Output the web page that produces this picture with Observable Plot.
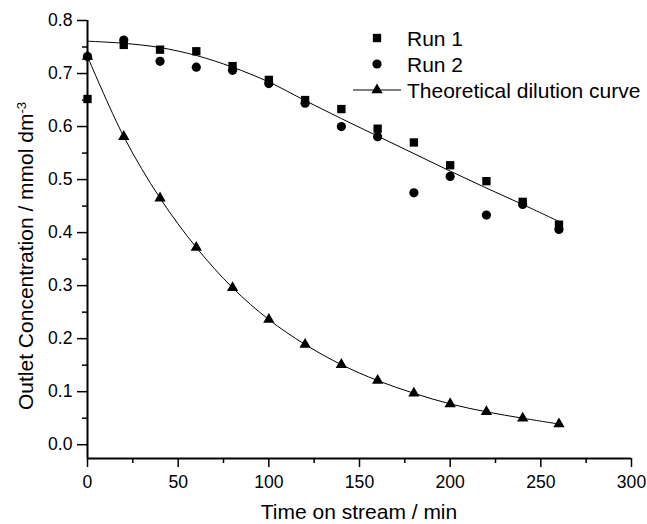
<!DOCTYPE html>
<html>
<head>
<meta charset="utf-8">
<script src="https://cdn.jsdelivr.net/npm/d3@7"></script>
<script src="https://cdn.jsdelivr.net/npm/@observablehq/plot@0.6"></script>
<style>
  html, body { margin: 0; padding: 0; background: #fff; }
  #chart svg { display: block; }
</style>
</head>
<body>
<div id="chart"></div>
<script>
// ---- data ----
const time = [0, 20, 40, 60, 80, 100, 120, 140, 160, 180, 200, 220, 240, 260];
const run1 = [0.652, 0.754, 0.745, 0.742, 0.714, 0.688, 0.650, 0.633, 0.596, 0.570, 0.527, 0.497, 0.458, 0.415];
const run2 = [0.732, 0.763, 0.723, 0.712, 0.706, 0.681, 0.644, 0.600, 0.581, 0.475, 0.506, 0.433, 0.453, 0.406];
const theory = [0.732, 0.581, 0.465, 0.372, 0.296, 0.236, 0.189, 0.151, 0.121, 0.097, 0.077, 0.062, 0.050, 0.039];
const fitCurve = [0.761, 0.757, 0.749, 0.734, 0.712, 0.684, 0.649, 0.615, 0.582, 0.549, 0.516, 0.484, 0.453, 0.421];

const xTicks = [0, 50, 100, 150, 200, 250, 300];
const xMinor = [25, 75, 125, 175, 225, 275];
const yTicks = [0, 0.1, 0.2, 0.3, 0.4, 0.5, 0.6, 0.7, 0.8];
const yMinor = [0.05, 0.15, 0.25, 0.35, 0.45, 0.55, 0.65, 0.75];

const seriesNames = ["Run 1", "Run 2", "Theoretical dilution curve"];
const xTitle = "Time on stream / min";
const yTitle = "Outlet Concentration / mmol dm";
const yTitleSup = "-3";

const rows = (ys) => time.map((t, i) => ({t, v: ys[i]}));

const FONT = "'Liberation Sans', Arial, Helvetica, sans-serif";
const W = 647, H = 524;
const mL = 87, mR = 16, mT = 20, mB = 66;
const yMin = -0.026;

const plot = Plot.plot({
  width: W,
  height: H,
  marginLeft: mL,
  marginRight: mR,
  marginTop: mT,
  marginBottom: mB,
  style: {fontFamily: FONT, fontSize: "17.6px", color: "#000", background: "#fff"},
  x: {domain: [0, 300], label: null},
  y: {domain: [yMin, 0.8], label: null},
  marks: [
    // minor ticks
    Plot.axisX(xMinor, {tickSize: 5, text: null, strokeWidth: 1.5, label: null}),
    Plot.axisY(yMinor, {tickSize: 5, text: null, strokeWidth: 1.5, label: null}),
    // major ticks + labels
    Plot.axisX(xTicks, {tickSize: 9, tickPadding: 8, strokeWidth: 1.5, label: null, tickFormat: d3.format("d")}),
    Plot.axisY(yTicks, {tickSize: 10, tickPadding: 5, strokeWidth: 1.5, label: null, tickFormat: d3.format(".1f")}),
    // axis lines
    Plot.ruleY([yMin], {stroke: "#000", strokeWidth: 2}),
    Plot.ruleX([0], {stroke: "#000", strokeWidth: 2}),
    // curves
    Plot.line(rows(fitCurve), {x: "t", y: "v", curve: "catmull-rom", stroke: "#000", strokeWidth: 1}),
    Plot.line(rows(theory), {x: "t", y: "v", curve: "catmull-rom", stroke: "#000", strokeWidth: 1}),
    // markers
    Plot.dot(rows(run1), {x: "t", y: "v", symbol: "square", r: 4.7, fill: "#000", stroke: "none"}),
    Plot.dot(rows(run2), {x: "t", y: "v", symbol: "circle", r: 4.6, fill: "#000", stroke: "none"}),
    Plot.dot(rows(theory), {x: "t", y: "v", symbol: "triangle", r: 4.2, fill: "#000", stroke: "none"})
  ]
});

document.getElementById("chart").appendChild(plot);

const svg = d3.select(plot);

// Axis titles
svg.append("text")
  .attr("x", (mL + (W - mR)) / 2)
  .attr("y", 519)
  .attr("text-anchor", "middle")
  .style("font-family", FONT)
  .style("font-size", "21px")
  .attr("fill", "#000")
  .text(xTitle);

const yt = svg.append("text")
  .attr("transform", "translate(33,410) rotate(-90)")
  .attr("text-anchor", "start")
  .style("font-family", FONT)
  .style("font-size", "21px")
  .attr("fill", "#000");
yt.append("tspan").text(yTitle);
yt.append("tspan").attr("dy", "-0.55em").style("font-size", "13px").text(yTitleSup);

// Legend
const lg = svg.append("g")
  .style("font-family", FONT)
  .style("font-size", "21px")
  .attr("text-anchor", "start");
const sym = [d3.symbolSquare, d3.symbolCircle, d3.symbolTriangle];
const sizes = [Math.PI * 4.7 * 4.7, Math.PI * 4.6 * 4.6, Math.PI * 4.2 * 4.2];
const legendX = 377, legendY0 = 38, legendDy = 26;
seriesNames.forEach((name, i) => {
  const cy = legendY0 + i * legendDy;
  if (i === 2) {
    lg.append("line").attr("x1", legendX - 24).attr("x2", legendX + 24)
      .attr("y1", cy).attr("y2", cy).attr("stroke", "#000").attr("stroke-width", 1);
  }
  lg.append("path")
    .attr("transform", `translate(${legendX},${cy})`)
    .attr("d", d3.symbol(sym[i], sizes[i])())
    .attr("fill", "#000");
  lg.append("text")
    .attr("x", legendX + 30)
    .attr("y", cy + 7.5)
    .attr("text-anchor", "start")
    .attr("fill", "#000")
    .text(name);
});
</script>
</body>
</html>
